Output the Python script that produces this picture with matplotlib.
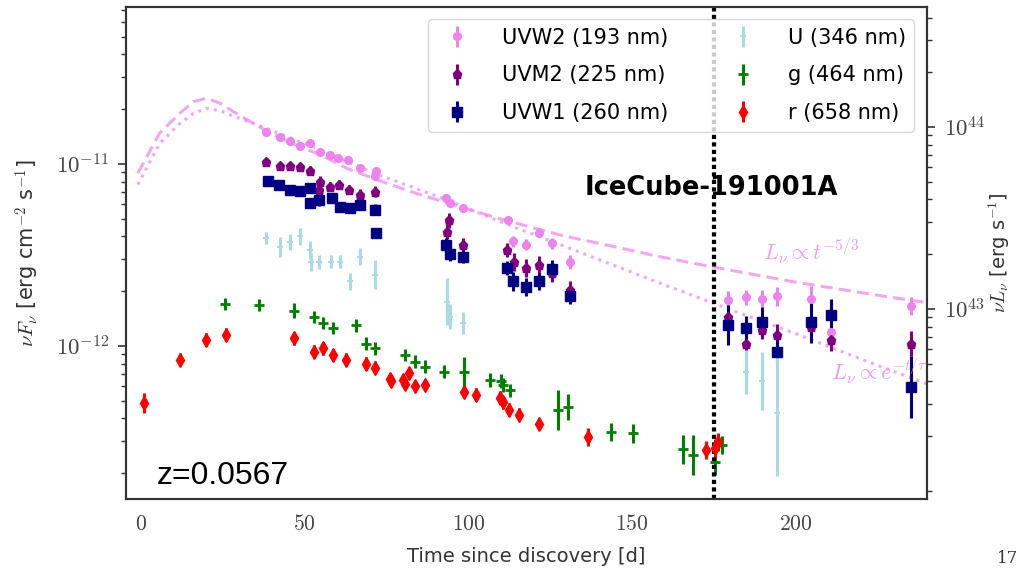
import numpy as np
import matplotlib
matplotlib.use('Agg')
import matplotlib.pyplot as plt
from matplotlib.ticker import FuncFormatter, FixedLocator, LogLocator, NullFormatter

plt.rcParams['mathtext.fontset'] = 'cm'
plt.rcParams['font.family'] = ['DejaVu Sans']

# nuF_nu -> nuL_nu (4 pi d_L^2 at z=0.0567)
lum_factor = 6.27e54

# --- Swift UVOT ---
t_uvw2 = [38.3, 42.4, 45.4, 48.5, 51.5, 54.6, 57.6, 60.2, 63.2, 66.8, 71.4, 71.9,
          93.3, 94.3, 98.4, 112.2, 113.7, 117.6, 121.7, 125.7, 131.0,
          179.5, 184.8, 189.7, 194.5, 204.7, 210.8, 235.3]
f_uvw2 = [1.50e-11, 1.41e-11, 1.33e-11, 1.25e-11, 1.30e-11, 1.17e-11, 1.12e-11, 1.08e-11,
          1.05e-11, 9.5e-12, 8.6e-12, 9.1e-12,
          6.5e-12, 6.1e-12, 5.7e-12, 4.9e-12, 3.75e-12, 3.6e-12, 4.2e-12, 3.67e-12, 2.9e-12,
          1.79e-12, 1.85e-12, 1.82e-12, 1.87e-12, 1.82e-12, 1.19e-12, 1.66e-12]
e_uvw2 = [0.017, 0.017, 0.017, 0.017, 0.02, 0.017, 0.017, 0.017, 0.017, 0.017, 0.025, 0.02,
          0.02, 0.02, 0.02, 0.02, 0.03, 0.03, 0.025, 0.03, 0.04,
          0.05, 0.04, 0.045, 0.05, 0.07, 0.06, 0.05]

t_uvm2 = [38.1, 42.4, 45.4, 48.5, 51.7, 54.6, 54.4, 57.6, 60.5, 63.5, 66.8, 71.4,
          93.5, 94.1, 98.4, 111.9, 113.9, 117.6, 121.7, 125.7, 131.0,
          179.5, 184.8, 189.7, 194.5, 204.7, 210.8, 235.3]
f_uvm2 = [1.02e-11, 9.75e-12, 9.7e-12, 9.6e-12, 9.2e-12, 8.0e-12, 7.2e-12, 7.5e-12,
          7.7e-12, 7.2e-12, 6.76e-12, 7.05e-12,
          4.25e-12, 4.9e-12, 3.6e-12, 3.37e-12, 2.9e-12, 2.68e-12, 2.79e-12, 2.53e-12, 2.03e-12,
          1.45e-12, 1.03e-12, 1.22e-12, 1.15e-12, 1.27e-12, 1.08e-12, 1.03e-12]
e_uvm2 = [0.022, 0.022, 0.022, 0.022, 0.025, 0.03, 0.03, 0.025, 0.025, 0.025, 0.03, 0.03,
          0.04, 0.04, 0.035, 0.04, 0.05, 0.05, 0.05, 0.05, 0.05,
          0.06, 0.05, 0.05, 0.06, 0.06, 0.06, 0.07]

t_uvw1 = [38.8, 42.1, 45.4, 48.5, 51.7, 51.5, 54.4, 58.2, 60.7, 63.8, 66.8, 71.4, 71.9,
          93.3, 94.3, 98.4, 111.7, 113.7, 117.6, 121.7, 125.7, 131.0,
          179.5, 184.8, 189.7, 194.5, 204.7, 210.8, 235.3]
f_uvw1 = [8.1e-12, 7.67e-12, 7.2e-12, 7.1e-12, 7.4e-12, 6.1e-12, 6.34e-12, 6.5e-12,
          5.8e-12, 5.7e-12, 5.95e-12, 5.59e-12, 4.2e-12,
          3.6e-12, 3.2e-12, 3.1e-12, 2.68e-12, 2.26e-12, 2.1e-12, 2.26e-12, 2.65e-12, 1.87e-12,
          1.30e-12, 1.25e-12, 1.36e-12, 9.3e-13, 1.36e-12, 1.48e-12, 5.97e-13]
e_uvw1 = [0.022, 0.025, 0.025, 0.025, 0.025, 0.03, 0.035, 0.025, 0.025, 0.025, 0.025, 0.03, 0.025,
          0.035, 0.04, 0.035, 0.04, 0.05, 0.05, 0.045, 0.05, 0.04,
          0.11, 0.07, 0.08, 0.07, 0.12, 0.09, 0.17]

t_u = [38.3, 42.4, 45.4, 48.5, 51.7, 52.0, 54.4, 57.9, 60.7, 63.8, 67.0, 71.4,
       93.5, 94.3, 98.4, 184.8, 189.7, 194.5]
f_u = [3.9e-12, 3.5e-12, 3.73e-12, 4.0e-12, 3.37e-12, 2.9e-12, 2.9e-12, 2.9e-12,
       2.9e-12, 2.26e-12, 3.1e-12, 2.46e-12,
       1.75e-12, 1.45e-12, 1.33e-12, 7.2e-13, 6.4e-13, 4.3e-13]
e_u = [0.033, 0.055, 0.045, 0.045, 0.05, 0.05, 0.04, 0.035, 0.035, 0.045, 0.045, 0.08,
       0.13, 0.07, 0.06, 0.12, 0.16, 0.35]

# --- ZTF optical ---
t_g = [25.6, 36.0, 46.7, 52.7, 55.7, 58.8, 65.6, 68.7, 71.5, 80.6, 83.6, 86.7, 92.5,
       98.6, 106.6, 109.9, 110.6, 112.7, 127.5, 130.5, 143.5, 150.4,
       165.5, 168.6, 175.4, 177.4]
f_g = [1.70e-12, 1.68e-12, 1.56e-12, 1.44e-12, 1.33e-12, 1.25e-12, 1.30e-12, 1.03e-12,
       9.7e-13, 8.9e-13, 8.2e-13, 7.7e-13, 7.2e-13,
       7.2e-13, 6.5e-13, 6.4e-13, 6.1e-13, 5.7e-13, 4.45e-13, 4.6e-13, 3.37e-13, 3.3e-13,
       2.7e-13, 2.5e-13, 2.3e-13, 2.85e-13]
e_g = [0.033, 0.033, 0.04, 0.035, 0.033, 0.033, 0.035, 0.035, 0.035, 0.035, 0.035, 0.035, 0.035,
       0.08, 0.04, 0.04, 0.04, 0.035, 0.11, 0.07, 0.05, 0.05,
       0.08, 0.11, 0.07, 0.05]

t_r = [0.9, 11.8, 19.7, 25.8, 46.7, 52.7, 55.7, 58.8, 62.5, 68.7, 71.5,
       76.0, 76.5, 79.9, 80.6, 81.9, 83.6, 86.7, 98.6, 102.5, 109.6, 110.6,
       112.5, 115.5, 121.7, 136.6, 172.6, 175.4, 176.4]
f_r = [4.87e-13, 8.4e-13, 1.08e-12, 1.15e-12, 1.10e-12, 9.3e-13, 9.7e-13, 8.9e-13,
       8.4e-13, 8.0e-13, 7.6e-13,
       6.6e-13, 6.4e-13, 6.5e-13, 6.2e-13, 7.1e-13, 6.0e-13, 6.1e-13, 5.6e-13, 5.4e-13,
       5.2e-13, 4.9e-13,
       4.45e-13, 4.18e-13, 3.72e-13, 3.16e-13, 2.68e-13, 2.75e-13, 2.95e-13]
e_r = [0.055, 0.035, 0.035, 0.035, 0.035, 0.035, 0.035, 0.035, 0.035, 0.035, 0.035,
       0.03, 0.03, 0.03, 0.03, 0.03, 0.03, 0.03, 0.035, 0.035, 0.035, 0.035,
       0.035, 0.035, 0.035, 0.05, 0.05, 0.05, 0.05]

# --- UVW2 model curves ---
t_pl = [-1, 5.7, 11.8, 16, 20, 24, 28, 38, 45, 55, 63, 72, 82, 93, 110, 129,
        145, 159, 175, 200, 225, 240]
f_pl = [8.9e-12, 1.48e-11, 1.9e-11, 2.2e-11, 2.3e-11, 2.16e-11, 1.95e-11, 1.53e-11,
        1.32e-11, 1.12e-11, 9.45e-12, 8.2e-12, 7.09e-12, 6.15e-12, 4.98e-12, 4.03e-12,
        3.5e-12, 3.08e-12, 2.71e-12, 2.24e-12, 1.90e-12, 1.73e-12]
t_exp = [-1, 5.7, 11.8, 16, 20, 24, 28, 38, 55, 72, 93, 110, 129, 159, 181, 200, 222, 240]
f_exp = [7.7e-12, 1.30e-11, 1.67e-11, 1.9e-11, 2.02e-11, 1.97e-11, 1.84e-11, 1.58e-11,
         1.19e-11, 8.8e-12, 6.4e-12, 4.8e-12, 3.55e-12, 2.2e-12, 1.56e-12, 1.17e-12,
         8.2e-13, 6.2e-13]

t_icecube = 175


def dex_err(flux, dex):
    flux = np.asarray(flux)
    dex = np.asarray(dex)
    return [flux - flux * 10 ** (-dex), flux * 10 ** dex - flux]


fig = plt.figure(figsize=(10.19, 5.70), dpi=100)
ax = fig.add_axes([0.1237, 0.1246, 0.7860, 0.8632])

bands = [
    (t_uvw2, f_uvw2, e_uvw2, 'violet', 'o', 5.5, 1.0, 'UVW2 (193 nm)'),
    (t_uvm2, f_uvm2, e_uvm2, 'purple', 'p', 6.5, 1.0, 'UVM2 (225 nm)'),
    (t_uvw1, f_uvw1, e_uvw1, 'navy', 's', 6.5, 1.0, 'UVW1 (260 nm)'),
    (t_u, f_u, e_u, 'lightblue', '_', 4, 1.5, 'U (346 nm)'),
    (t_g, f_g, e_g, 'green', '_', 7, 2.0, 'g (464 nm)'),
    (t_r, f_r, e_r, 'red', 'd', 7, 1.0, 'r (658 nm)'),
]
for t, f, e, c, m, ms, mew, lab in bands:
    ax.errorbar(t, f, yerr=dex_err(f, e), fmt=m, color=c, ms=ms, mew=mew,
                elinewidth=2.2, capsize=0, label=lab)

ax.plot(t_pl, f_pl, ls=(0, (4, 2)), color='violet', alpha=0.7, lw=2.2, zorder=1)
ax.plot(t_exp, f_exp, ls=':', color='violet', alpha=0.7, lw=2.2, zorder=1)
ax.text(190.2, 2.97e-12, r'$L_\nu \propto t^{-5/3}$', color='violet', alpha=0.8,
        fontsize=16, va='baseline')
ax.text(211, 6.5e-13, r'$L_\nu \propto e^{-t/\tau}$', color='violet', alpha=0.8,
        fontsize=16, va='baseline', clip_on=True)

ax.axvline(t_icecube, color='black', ls=(0, (1, 0.8)), lw=3)
ax.text(0.573, 0.618, 'IceCube-191001A', transform=ax.transAxes, fontsize=18.5,
        fontweight='bold', va='baseline')
ax.text(0.0387, 0.0305, 'z=0.0567', transform=ax.transAxes, fontsize=23,
        family='Liberation Sans', va='baseline')

ax.set_yscale('log')
ax.set_xlim(-4.6, 240.2)
ax.set_ylim(1.44e-13, 7.3e-11)
ax.set_xticks([0, 50, 100, 150, 200])
ax.xaxis.set_major_formatter(FuncFormatter(lambda v, p: r'$%d$' % v))
decade = FuncFormatter(lambda v, p: r'$10^{%d}$' % int(round(np.log10(v))))
ax.yaxis.set_major_locator(FixedLocator([1e-12, 1e-11]))
ax.yaxis.set_minor_locator(LogLocator(base=10, subs=np.arange(2, 10)))
ax.yaxis.set_major_formatter(decade)
ax.yaxis.set_minor_formatter(NullFormatter())

ax2 = ax.twinx()
ax2.set_yscale('log')
ax2.set_ylim(1.44e-13 * lum_factor, 7.3e-11 * lum_factor)
ax2.yaxis.set_major_locator(FixedLocator([1e43, 1e44]))
ax2.yaxis.set_minor_locator(LogLocator(base=10, subs=np.arange(1, 10)))
ax2.yaxis.set_major_formatter(decade)
ax2.yaxis.set_minor_formatter(NullFormatter())

for a in (ax, ax2):
    for s in a.spines.values():
        s.set_color('#333333')
        s.set_linewidth(1.5)
    a.tick_params(axis='y', which='major', direction='out', length=6, width=1.2,
                  color='#333333', labelsize=16.5, labelcolor='#444444', pad=6)
    a.tick_params(axis='y', which='minor', direction='out', length=3.5, width=1.0,
                  color='#333333')
ax.tick_params(axis='x', length=0, labelsize=15.5, labelcolor='#444444', pad=11)

ax.set_xlabel('Time since discovery [d]', fontsize=14, color='#333333', labelpad=9)
ax.set_ylabel(r'$\nu F_\nu$ [erg cm$^{-2}$ s$^{-1}$]', fontsize=15, color='#333333',
              labelpad=10)
ax2.set_ylabel(r'$\nu L_\nu$ [erg s$^{-1}$]', fontsize=14, color='#333333', labelpad=1)

ax.legend(ncol=2, loc='upper right', fontsize=15, labelspacing=0.85, columnspacing=2.6,
          handletextpad=1.15, borderaxespad=0.6, framealpha=0.8, edgecolor='0.8')

fig.text(0.978, 0.012, '17', fontsize=12, family='serif', color='#333333')

fig.savefig('out.png', dpi=100)
